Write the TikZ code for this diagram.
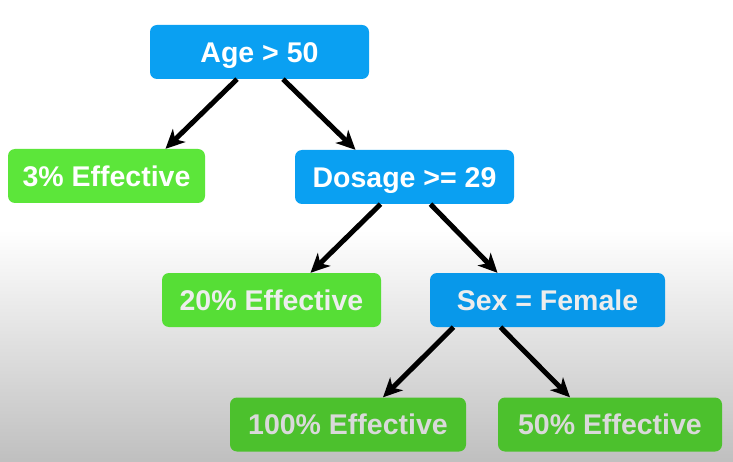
\documentclass[tikz,border=0pt]{standalone}
\usepackage{fontspec}
\setmainfont{Liberation Sans}
\usetikzlibrary{arrows.meta}
\definecolor{qblue}{HTML}{0AA0F2}
\definecolor{qblueb}{HTML}{0898EA}
\definecolor{leafa}{HTML}{5CE63A}
\definecolor{leafb}{HTML}{56DE36}
\definecolor{leafc}{HTML}{4CC12D}
\tikzset{%
    question/.style={%
        fill=qblue, text=white, rounded corners=7pt, minimum height=54pt,
        font=\fontsize{28.5}{30}\selectfont\bfseries, inner sep=0pt,
        text height=20.5pt, text depth=0pt
    },
    leaf/.style={%
        question, fill=leafa
    },
    branch/.style={%
        line width=5pt, -{Stealth[length=19pt,width=18pt,inset=5.5pt]}
    }
}

\begin{document}
\begin{tikzpicture}[x=1pt,y=1pt]
\useasboundingbox (0,0) rectangle (733,-462);
\fill[white] (0,0) rectangle (733,-230);
\shade[top color=white, bottom color=black!25] (0,-230) rectangle (733,-462);

\node[question, minimum width=219pt] (P0) at (259.5,-52) {Age > 50};
\node[leaf, minimum width=197pt] (P1) at (106.5,-176) {3\% Effective};
\node[question, minimum width=219pt] (P2) at (404.5,-177) {Dosage >= 29};

\node[leaf, fill=leafb, text=white!93!black, minimum width=219pt] (P3) at (271.5,-300) {20\% Effective};
\node[question, fill=qblueb, text=white!93!black, minimum width=235pt] (P4) at (547.5,-300) {Sex = Female};

\node[leaf, fill=leafc, text=white!85!black, minimum width=236pt] (P5) at (348,-424.5) {100\% Effective};
\node[leaf, fill=leafc, text=white!85!black, minimum width=224pt] (P6) at (610,-424.5) {50\% Effective};

% Age to 3%
\draw[branch] ([xshift=-22.5pt]P0.south) -- ([xshift=59pt]P1.north);
% Age to Dosage
\draw[branch] ([xshift=23.5pt]P0.south) -- ([xshift=-49pt]P2.north);

% Dosage to 20%
\draw[branch] ([xshift=-24pt]P2.south) -- ([xshift=39pt]P3.north);
% Dosage to Sex
\draw[branch] ([xshift=26pt]P2.south) -- ([xshift=-50pt]P4.north);

% Sex to 100%
\draw[branch] ([xshift=-94pt]P4.south) -- ([xshift=35pt]P5.north);
% Sex to 50%
\draw[branch] ([xshift=-47pt]P4.south) -- ([xshift=-40pt]P6.north);
\end{tikzpicture}
\end{document}
